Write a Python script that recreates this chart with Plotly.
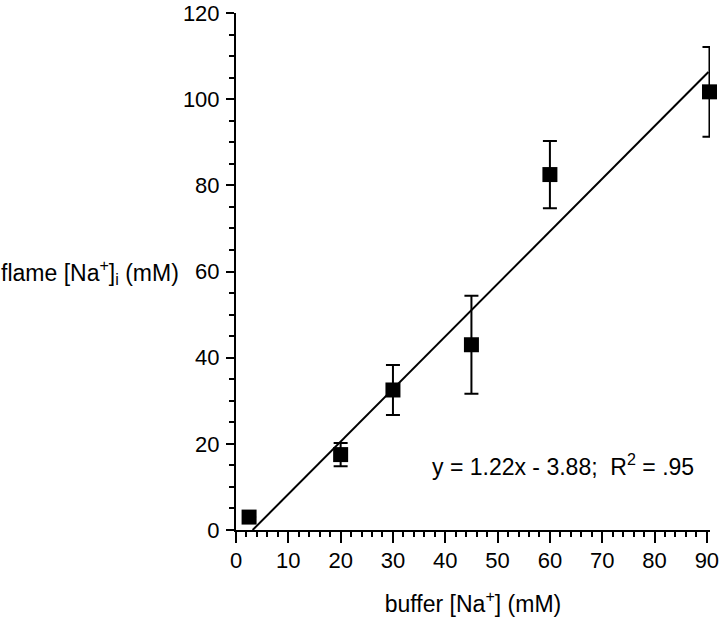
import plotly.graph_objects as go

# Data
buffer_na = [2.5, 20, 30, 45, 60, 90.5]
flame_na = [3.0, 17.5, 32.5, 43.0, 82.5, 101.7]
flame_err = [0.0, 2.7, 5.8, 11.4, 7.8, 10.4]

slope = 1.22
intercept = -3.88
fit_x = [3.18, 90.3]
fit_y = [slope * v + intercept for v in fit_x]

x_ticks = [0, 10, 20, 30, 40, 50, 60, 70, 80, 90]
y_ticks = [0, 20, 40, 60, 80, 100, 120]

FONT = "Liberation Sans, Arial, Helvetica, sans-serif"

W, H = 720, 618
X_MAX = 90.6
plot_w = 471.0 * X_MAX / 90.0
L, T = 236, 13
PLOT_H = 517
B = H - T - PLOT_H

fig = go.Figure()
fig.add_trace(go.Scatter(
    x=fit_x, y=fit_y, mode="lines",
    line=dict(color="black", width=2),
    cliponaxis=False, showlegend=False, hoverinfo="skip",
))
fig.add_trace(go.Scatter(
    x=buffer_na, y=flame_na, mode="markers",
    marker=dict(symbol="square", size=15, color="black"),
    error_y=dict(type="data", array=flame_err, visible=True,
                 color="black", thickness=2, width=7),
    cliponaxis=False, showlegend=False,
))

fig.add_annotation(
    x=37.0, y=15, xref="x", yref="y", xanchor="left", yanchor="middle",
    text="y = 1.22x - 3.88;  R<sup>2</sup> = .95", showarrow=False,
    font=dict(size=23, color="black", family=FONT),
)
fig.add_annotation(
    x=-(236 - 181) / plot_w, y=60, xref="paper", yref="y",
    xanchor="right", yanchor="middle",
    text="flame [Na<sup>+</sup>]<sub>i</sub> (mM)", showarrow=False,
    font=dict(size=23, color="black", family=FONT),
)

fig.update_layout(
    width=W, height=H,
    margin=dict(l=L, r=W - L - plot_w, t=T, b=B, autoexpand=False),
    paper_bgcolor="white", plot_bgcolor="white",
    font=dict(family=FONT, size=22, color="black"),
    xaxis=dict(
        range=[0, X_MAX], tickmode="array", tickvals=x_ticks,
        ticks="outside", ticklen=11, tickwidth=2, tickcolor="black",
        showline=True, linecolor="black", linewidth=2,
        showgrid=False, zeroline=False, automargin=False,
        minor=dict(tickvals=[v for v in range(0, 91, 2)], ticks="outside", ticklen=5,
                   tickwidth=1.5, tickcolor="black", showgrid=False),
        title=dict(text="buffer [Na<sup>+</sup>] (mM)", standoff=23,
                   font=dict(size=23, family=FONT, color="black")),
        tickfont=dict(size=22, family=FONT, color="black"),
        ticklabelstandoff=-1, ticklabeloverflow="allow",
    ),
    yaxis=dict(
        range=[0, 120], tickmode="array", tickvals=y_ticks,
        ticks="outside", ticklen=8, tickwidth=2, tickcolor="black",
        showline=True, linecolor="black", linewidth=2,
        showgrid=False, zeroline=False, automargin=False,
        minor=dict(dtick=5, ticks="outside", ticklen=5, tickwidth=1.5,
                   tickcolor="black", showgrid=False),
        tickfont=dict(size=22, family=FONT, color="black"),
        ticklabelstandoff=2, ticklabeloverflow="allow",
    ),
)

fig.write_html("out.html", config={"displayModeBar": False},
               post_script="document.body.style.margin='0px';")
